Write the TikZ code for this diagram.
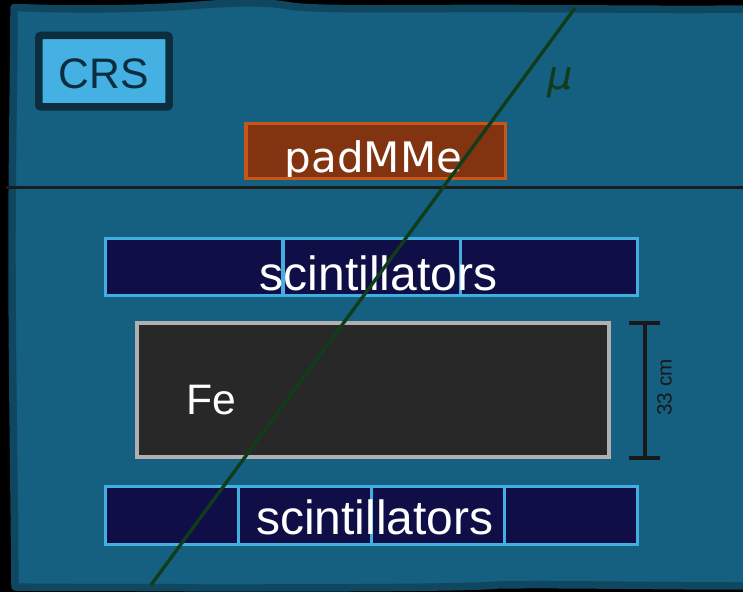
\documentclass[tikz,border=0pt]{standalone}
\usepackage{fontspec}
\setmainfont{Liberation Sans}
\newfontfamily\dejavu{DejaVu Sans}

\definecolor{tank}{RGB}{21,95,128}
\definecolor{tankedge}{RGB}{15,70,96}
\definecolor{crsfill}{RGB}{69,176,226}
\definecolor{crsedge}{RGB}{11,45,64}
\definecolor{padfill}{RGB}{130,52,16}
\definecolor{padedge}{RGB}{200,86,26}
\definecolor{scifill}{RGB}{16,14,70}
\definecolor{sciedge}{RGB}{69,174,225}
\definecolor{fefill}{RGB}{40,40,40}
\definecolor{feedge}{RGB}{176,176,176}
\definecolor{muon}{RGB}{16,60,26}
\definecolor{rule}{RGB}{28,28,28}

\tikzset{
  boxshape/.style={rectangle, inner sep=0pt, outer sep=0pt},
  crsbox/.style={boxshape, draw=crsedge, fill=crsfill, line width=5.6pt,
    rounded corners=1.5pt, minimum width=97.7pt, minimum height=53.6pt},
  padbox/.style={boxshape, draw=padedge, fill=padfill, line width=2.6pt,
    minimum width=194.6pt, minimum height=40.9pt},
  scicell/.style={boxshape, draw=sciedge, fill=scifill, line width=2.6pt,
    minimum width=#1},
  febox/.style={boxshape, draw=feedge, fill=fefill, line width=3pt,
    minimum width=354pt, minimum height=100.5pt},
  label/.style={inner sep=0pt, anchor=base},
  bigtext/.style={label, text=white, font=\fontsize{36}{40}\selectfont},
  dimline/.style={draw=black!90, line width=3pt},
  track/.style={draw=muon, line width=2.5pt},
}

\begin{document}
\begin{tikzpicture}[x=0.75pt,y=-0.75pt]
\useasboundingbox (0,0) rectangle (743,592);
\clip (0,0) rectangle (743,592);
\fill[black] (0,0) rectangle (743,592);

% hand-drawn outline of the detector hall
\path[fill=tank, draw=tankedge, line width=5.6pt, line join=round]
  (14,7.5) .. controls (80,10) and (150,9) .. (200,5)
  .. controls (240,2) and (270,2) .. (290,6)
  .. controls (310,9) and (360,9) .. (450,8.5)
  .. controls (550,8) and (650,10) .. (750,9)
  -- (750,586)
  .. controls (650,586) and (560,584) .. (498,585)
  .. controls (470,588) and (300,588) .. (200,588)
  .. controls (150,587) and (60,588) .. (15,587)
  .. controls (14,480) and (12,350) .. (12,250)
  .. controls (12,160) and (14,60) .. (14,7.5) -- cycle;

% floor separating the upper level
\coordinate (sepL) at (6,187.5);
\coordinate (sepR) at (743,187.5);
\draw[draw=rule, line width=2.5pt] (sepL) -- (sepR);

% CRS tag
\node[crsbox] (crs) at (103.9,71.2) {};
\node[label, text=crsedge, font=\fontsize{32}{38}\selectfont] (crstext) at (104,89) {CRS};

% padMMe detector
\node[padbox] (pad) at (375.5,151) {};
\begin{scope}
  \clip ([shift={(1.75,-1.75)}]pad.south west) rectangle ([shift={(-1.75,1.75)}]pad.north east);
  \node[label, text=white, font=\dejavu\fontsize{31.5}{36}\selectfont] (padtext) at (373.5,172.5) {padMMe};
\end{scope}

% upper scintillator plane: three bars
\foreach \i/\x in {1/194, 2/371.5, 3/549}
  \node[scicell=133.1pt, minimum height=42.75pt] (up\i) at (\x,266.75) {};
\node[bigtext] (uptext) at (378.5,290) {scintillators};

% iron absorber
\node[febox] (fe) at (373,390) {};
\node[label, anchor=base west, text=white, font=\fontsize{32}{38}\selectfont] (fetext) at (186,414) {Fe};

% thickness of the absorber
\coordinate (dimT) at (645,323);
\coordinate (dimB) at (645,458);
\coordinate (capTL) at (629,323);
\coordinate (capTR) at (660,323);
\coordinate (capBL) at (629,458);
\coordinate (capBR) at (660,458);
\draw[dimline] (dimT) -- (dimB);
\draw[dimline] (capTL) -- (capTR);
\draw[dimline] (capBL) -- (capBR);
\node[inner sep=0pt, rotate=90, text=black!90, font=\fontsize{15.5}{18}\selectfont] (dimtext) at (664.5,387.5) {33 cm};

% lower scintillator plane: four bars
\foreach \i/\x in {1/171.81, 2/304.94, 3/438.06, 4/571.19}
  \node[scicell=99.84pt, minimum height=43.5pt] (lo\i) at (\x,515.75) {};
\node[bigtext] (lotext) at (375,534) {scintillators};

% muon track
\coordinate (muA) at (575,8);
\coordinate (muB) at (151,585);
\draw[track] (muA) -- (muB);
\node[text=muon, font=\dejavu\itshape\fontsize{30}{34}\selectfont, inner sep=0pt] (mutext) at (560.5,83) {μ};
\end{tikzpicture}
\end{document}
